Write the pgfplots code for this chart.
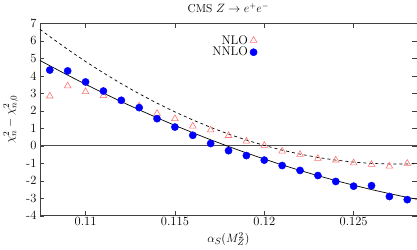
\documentclass[border=0pt]{standalone}
\usepackage{pgfplots}
\pgfplotsset{compat=1.18}
\newcommand{\bigf}{\fontsize{12.5}{14}\selectfont}
\begin{document}
\begin{tikzpicture}
\begin{axis}[
  scale only axis,
  width=376pt, height=192pt,
  xmin=0.10745, xmax=0.12853,
  ymin=-4, ymax=7,
  xtick={0.11,0.115,0.12,0.125},
  xticklabels={0.11,0.115,0.12,0.125},
  scaled x ticks=false,
  ytick={-4,-3,-2,-1,0,1,2,3,4,5,6,7},
  yticklabels={-4,-3,-2,-1,0,1,2,3,4,5,6,7},
  tick align=inside,
  minor tick num=0,
  tick label style={font=\bigf},
  xticklabel style={yshift=2pt},
  label style={font=\bigf},
  axis line style={black!75, line width=0.5pt},
  every tick/.style={black!75},
  title={CMS $Z\to e^{+}e^{-}$},
  title style={font=\fontsize{11.5}{13}\selectfont, yshift=1pt},
  xlabel={$\alpha_S(M_Z^2)$},
  ylabel={$\chi^2_n-\chi^2_{n,0}$},
  xlabel style={yshift=0.5pt},
  ylabel style={yshift=1pt},
  legend style={draw=none, fill=none, font=\bigf, at={(0.585,0.96)}, anchor=north east, row sep=-2.5pt},
  legend cell align=right,
  legend plot pos=right,
  clip=true,
]
\draw[black!70, line width=1.1pt] (axis cs:0.10745,0) -- (axis cs:0.12853,0);
\addplot[black, line width=0.7pt, dashed, forget plot] coordinates {
(0.10745,6.660) (0.108,6.242) (0.109,5.511) (0.110,4.819) (0.111,4.165)
(0.112,3.550) (0.113,2.974) (0.114,2.436) (0.115,1.936) (0.116,1.476)
(0.117,1.054) (0.118,0.670) (0.119,0.325) (0.120,0.019) (0.121,-0.249)
(0.122,-0.478) (0.123,-0.669) (0.124,-0.820) (0.125,-0.934) (0.126,-1.008)
(0.127,-1.045) (0.128,-1.042) (0.12853,-1.025)};
\addplot[black, line width=0.7pt, forget plot] coordinates {
(0.10745,4.880) (0.108,4.577) (0.109,4.038) (0.110,3.516) (0.111,3.012)
(0.112,2.524) (0.113,2.054) (0.114,1.601) (0.115,1.165) (0.116,0.746)
(0.117,0.344) (0.118,-0.041) (0.119,-0.409) (0.120,-0.760) (0.121,-1.093)
(0.122,-1.410) (0.123,-1.709) (0.124,-1.991) (0.125,-2.256) (0.126,-2.505)
(0.127,-2.735) (0.128,-2.949) (0.12853,-3.056)};
\addplot[only marks, mark=triangle, mark size=3.8pt, color=red!55, mark options={line width=0.6pt}] coordinates {
(0.108,2.84) (0.109,3.42) (0.110,3.09) (0.111,2.86) (0.112,2.56)
(0.113,2.27) (0.114,1.85) (0.115,1.55) (0.116,1.12) (0.117,0.90)
(0.118,0.58) (0.119,0.26) (0.120,0.02) (0.121,-0.31) (0.122,-0.50)
(0.123,-0.73) (0.124,-0.82) (0.125,-0.98) (0.126,-1.07) (0.127,-1.17)
(0.128,-1.01)};
\addlegendentry{NLO}
\addplot[only marks, mark=*, mark size=3.6pt, color=blue, mark options={fill=blue, draw=blue}] coordinates {
(0.108,4.33) (0.109,4.28) (0.110,3.65) (0.111,3.13) (0.112,2.60)
(0.113,2.18) (0.114,1.55) (0.115,1.07) (0.116,0.60) (0.117,0.13)
(0.118,-0.28) (0.119,-0.56) (0.120,-0.82) (0.121,-1.13) (0.122,-1.41)
(0.123,-1.70) (0.124,-2.04) (0.125,-2.31) (0.126,-2.28) (0.127,-2.90)
(0.128,-3.08)};
\addlegendentry{NNLO}
\end{axis}
\end{tikzpicture}
\end{document}
